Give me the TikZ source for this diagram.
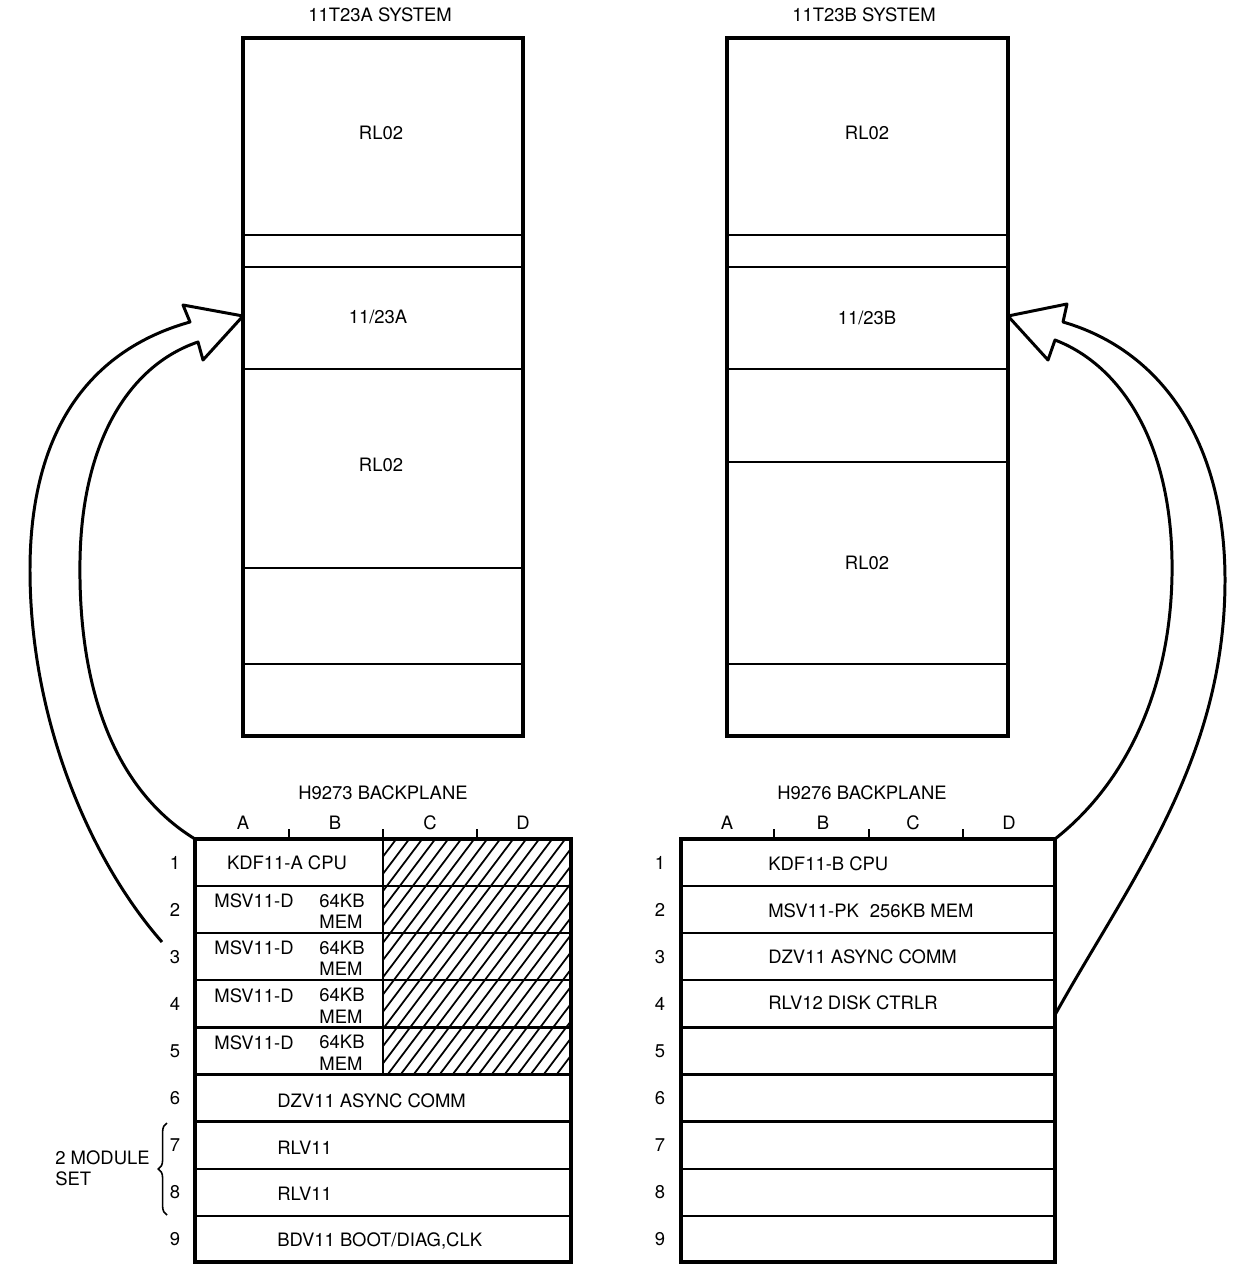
\documentclass[tikz,border=0pt]{standalone}
\usepackage{fontspec}
\setmainfont{TeX Gyre Heros}
\usetikzlibrary{decorations.pathreplacing}
\tikzset{
  frame/.style={draw, line width=1.9pt, outer sep=0pt, inner sep=0pt, anchor=north west},
  divider/.style={line width=1.3pt},
  lbl/.style={font=\fontsize{10.5}{12}\selectfont, inner sep=0pt},
  slotlbl/.style={lbl, anchor=west},
  hatchline/.style={line width=1pt},
  bigarrow/.style={line width=1.7pt, line join=round}
}

\begin{document}
\begin{tikzpicture}[x=0.02cm, y=-0.02cm]
  \useasboundingbox (0,0) rectangle (1242,1264);

  % 11T23A system cabinet
  \node[lbl] (titleA) at (380,15) {11T23A SYSTEM};
  \foreach \y in {235,267,369,568,664} \draw[divider] (243,\y) -- (523,\y);
  \node[frame, minimum width=5.6cm, minimum height=13.96cm] (sysA) at (243,38) {};
  \node[lbl] (rlA1) at (381,133) {RL02};
  \node[lbl] (cpuA) at (378,317) {11/23A};
  \node[lbl] (rlA2) at (381,465) {RL02};

  % 11T23B system cabinet
  \node[lbl] (titleB) at (864,15) {11T23B SYSTEM};
  \foreach \y in {235,267,369,462,664} \draw[divider] (727,\y) -- (1008,\y);
  \node[frame, minimum width=5.62cm, minimum height=13.96cm] (sysB) at (727,38) {};
  \node[lbl] (rlB1) at (867,133) {RL02};
  \node[lbl] (cpuB) at (867,318) {11/23B};
  \node[lbl] (rlB2) at (867,563) {RL02};

  % H9273 backplane
  \node[lbl] (bpAtitle) at (383,793) {H9273 BACKPLANE};
  \begin{scope}
    \clip (383,839) rectangle (571,1074);
    \foreach \x in {180,193,...,580} \draw[hatchline] (\x,1074) -- ++(178,-236);
  \end{scope}
  \foreach \i in {1,...,8} \draw[divider] (195,{839+47.1*\i}) -- (571,{839+47.1*\i});
  \draw[divider] (383,839) -- (383,1074);
  \node[frame, minimum width=7.52cm, minimum height=8.46cm] (bpA) at (195,839) {};
  \foreach \x in {289,383,477} \draw[divider] (\x,829) -- (\x,839);
  \foreach \x/\c in {243/A,335/B,430/C,523/D} \node[lbl] (colA\c) at (\x,823) {\c};
  \foreach \i in {1,...,9} \node[lbl] (rowA\i) at (175,{839+47.1*\i-23.5}) {\i};
  \node[lbl] (kdfA) at (287,863) {KDF11-A CPU};
  \foreach \i in {2,...,5} {
    \node[lbl] (msvA\i) at (254,{839+47.1*(\i-1)+15}) {MSV11-D};
    \node[lbl] (kbA\i) at (342,{839+47.1*(\i-1)+15}) {64KB};
    \node[lbl] (memA\i) at (341,{839+47.1*(\i-1)+36}) {MEM};
  }
  \node[slotlbl] (dzvA) at (277,1101) {DZV11 ASYNC COMM};
  \node[slotlbl] (rlvA7) at (277,1148) {RLV11};
  \node[slotlbl] (rlvA8) at (277,1194) {RLV11};
  \node[slotlbl] (bdvA) at (277,1241) {BDV11 BOOT/DIAG,CLK};
  \draw[decorate, decoration={brace, amplitude=5pt}, line width=0.9pt] (167,1215) -- (167,1123);
  \node[lbl, anchor=west, align=left] (modset) at (55,1168) {2 MODULE\\SET};

  % H9276 backplane
  \node[lbl] (bpBtitle) at (862,793) {H9276 BACKPLANE};
  \foreach \i in {1,...,8} \draw[divider] (681,{839+47.1*\i}) -- (1055,{839+47.1*\i});
  \node[frame, minimum width=7.48cm, minimum height=8.46cm] (bpB) at (681,839) {};
  \foreach \x in {774,869,963} \draw[divider] (\x,829) -- (\x,839);
  \foreach \x/\c in {727/A,823/B,913/C,1009/D} \node[lbl] (colB\c) at (\x,823) {\c};
  \foreach \i in {1,...,9} \node[lbl] (rowB\i) at (660,{839+47.1*\i-23.5}) {\i};
  \node[slotlbl] (kdfB) at (768,864) {KDF11-B CPU};
  \node[slotlbl] (msvB) at (768,911) {MSV11-PK\hspace{0.6em}256KB MEM};
  \node[slotlbl] (dzvB) at (768,957) {DZV11 ASYNC COMM};
  \node[slotlbl] (rlvB) at (768,1003) {RLV12 DISK CTRLR};

  % hollow arrows from backplane to cabinet
  \coordinate (tailA) at (162,942);
  \coordinate (tipA) at (sysA.west |- 0,316);
  \draw[bigarrow] (tailA) .. controls (90,860) and (30,720) .. (30,570)
    .. controls (30,430) and (90,350) .. (190,322) -- (183,305) -- (tipA)
    -- (203,360) -- (198,342) .. controls (130,365) and (82,440) .. (80,560)
    .. controls (78,690) and (115,790) .. (bpA.north west);
  \coordinate (tailB) at (bpB.east |- 0,1015);
  \coordinate (tipB) at (sysB.east |- 0,316);
  \draw[bigarrow] (tailB) .. controls (1130,880) and (1225,760) .. (1225,580)
    .. controls (1225,440) and (1160,350) .. (1063,322) -- (1067,304) -- (tipB)
    -- (1048,360) -- (1055,340) .. controls (1120,365) and (1170,440) .. (1172,560)
    .. controls (1174,680) and (1130,780) .. (bpB.north east);
\end{tikzpicture}
\end{document}
